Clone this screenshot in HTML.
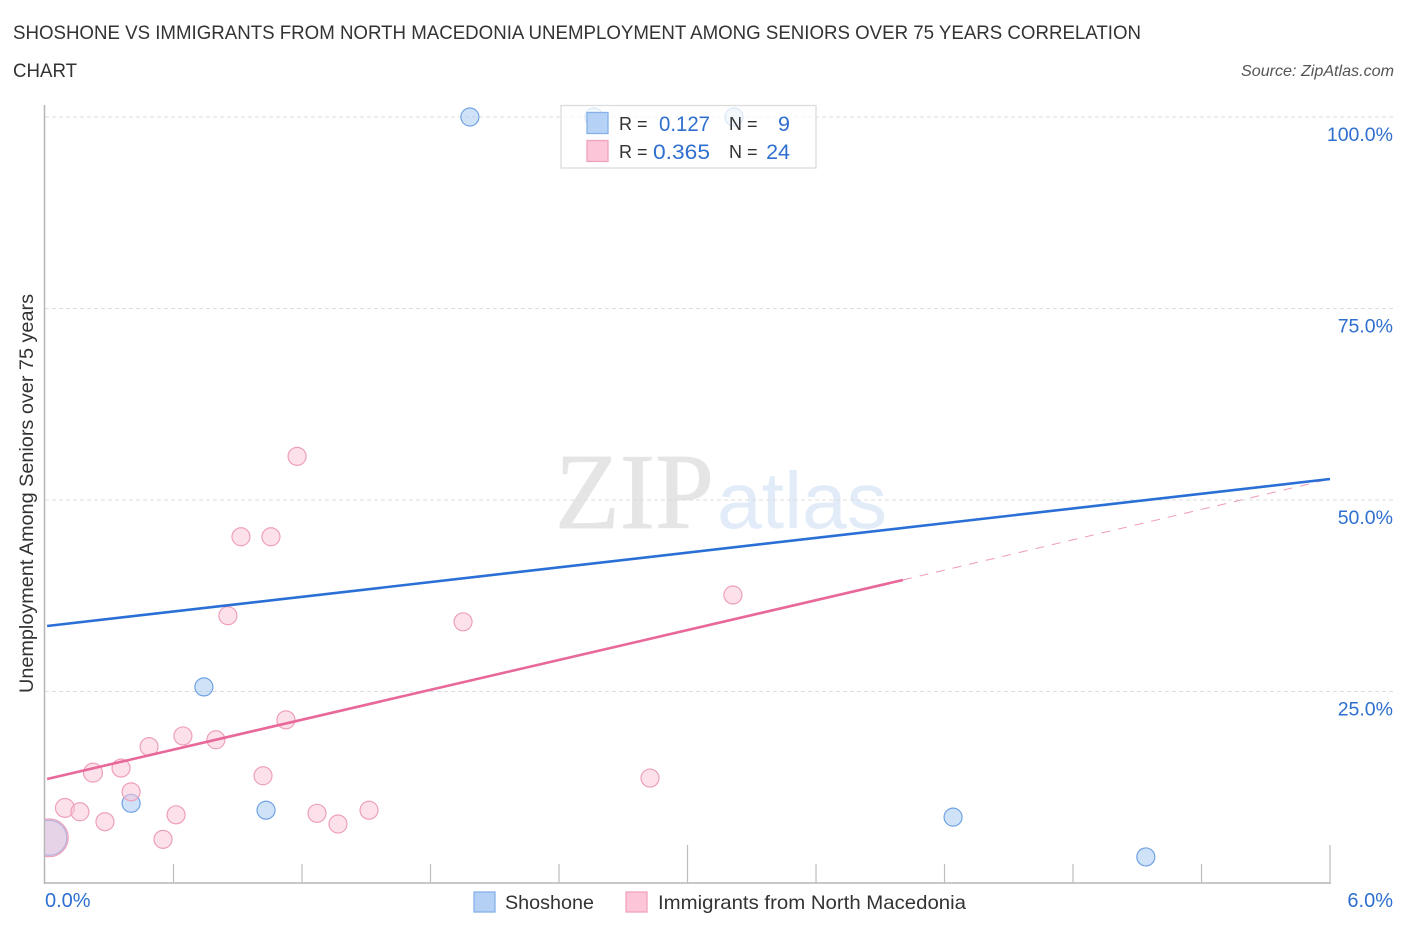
<!DOCTYPE html>
<html>
<head>
<meta charset="utf-8">
<title>Shoshone vs Immigrants from North Macedonia Chart</title>
<style>
html,body{margin:0;padding:0;background:#fff;width:1406px;height:930px;overflow:hidden}
svg{display:block;font-family:"Liberation Sans",sans-serif}
</style>
</head>
<body>
<svg id="chart" width="1406" height="930" viewBox="0 0 1406 930">
<defs><clipPath id="plot-clip"><rect x="45" y="90" width="1300" height="793"/></clipPath></defs>
<text x="13" y="39" font-size="19.5" fill="#333" textLength="1128" lengthAdjust="spacingAndGlyphs">SHOSHONE VS IMMIGRANTS FROM NORTH MACEDONIA UNEMPLOYMENT AMONG SENIORS OVER 75 YEARS CORRELATION</text>
<text x="13" y="77" font-size="19.5" fill="#333" textLength="64" lengthAdjust="spacingAndGlyphs">CHART</text>
<text x="1394" y="76" font-size="16" font-style="italic" fill="#555" text-anchor="end" textLength="153" lengthAdjust="spacingAndGlyphs">Source: ZipAtlas.com</text>
<g>
<text x="555" y="528" style="font-family:'Liberation Serif',serif" font-size="108" fill="#e5e5e5" stroke="#e5e5e5" stroke-width="0.8" textLength="159" lengthAdjust="spacingAndGlyphs">ZIP</text>
<text x="717" y="528" style="font-family:'Liberation Sans',sans-serif" font-size="80" fill="#e2ecf9" textLength="170" lengthAdjust="spacingAndGlyphs">atlas</text>
</g>
<g id="grid"></g>
<g id="axes"></g>
<text transform="translate(33,493.5) rotate(-90)" font-size="19" fill="#333" text-anchor="middle" textLength="399" lengthAdjust="spacingAndGlyphs">Unemployment Among Seniors over 75 years</text>
<g id="points" clip-path="url(#plot-clip)"></g>
<g id="trends"></g>
<g>
<rect x="561" y="105.500" width="255" height="62.500" fill="#fff" fill-opacity="0.75" stroke="#dcdcdc" stroke-width="1.300"/>
<rect x="587" y="112.500" width="21" height="21" fill="#a9cbf5" fill-opacity="0.85" stroke="#86b0e8" stroke-width="1.300"/>
<rect x="587" y="140.500" width="21" height="21" fill="#fcc5d8" stroke="#f0a3bd" stroke-width="1.300"/>
<text x="619" y="130" font-size="18" fill="#333">R =</text>
<text x="659" y="131" font-size="21.500" fill="#2e6fd0" textLength="51" lengthAdjust="spacingAndGlyphs">0.127</text>
<text x="729" y="130" font-size="18" fill="#333">N =</text>
<text x="790" y="131" font-size="21.500" fill="#2e6fd0" text-anchor="end">9</text>
<text x="619" y="158" font-size="18" fill="#333">R =</text>
<text x="653" y="159" font-size="21.500" fill="#2e6fd0" textLength="57" lengthAdjust="spacingAndGlyphs">0.365</text>
<text x="729" y="158" font-size="18" fill="#333">N =</text>
<text x="790" y="159" font-size="21.500" fill="#2e6fd0" text-anchor="end">24</text>
</g>
<g>
<rect x="474" y="892" width="21" height="20" fill="#b5d0f5" stroke="#86b0e8" stroke-width="1.300"/>
<text x="505" y="909" font-size="19.500" fill="#333" textLength="89" lengthAdjust="spacingAndGlyphs">Shoshone</text>
<rect x="626" y="892" width="21" height="20" fill="#fcc5d8" stroke="#f0a3bd" stroke-width="1.300"/>
<text x="658" y="909" font-size="19.500" fill="#333" textLength="308" lengthAdjust="spacingAndGlyphs">Immigrants from North Macedonia</text>
</g>
</svg>
<script>
const yTicks = [100, 75, 50, 25];
const yTickLabels = ["100.0%", "75.0%", "50.0%", "25.0%"];
const xTicks = [0.6, 1.2, 1.8, 2.4, 3.0, 3.6, 4.2, 4.8, 5.4, 6.0];
const xMajorTicks = [3.0, 6.0];
const xEndLabels = ["0.0%", "6.0%"];
const xEndValues = [0, 6];

const shoshoneX = [1.984, 2.563, 3.217, 0.742, 0.402, 1.032, 4.24, 5.14, 0.02];
const shoshoneY = [100, 100, 100, 25.6, 10.4, 9.5, 8.6, 3.4, 5.9];
const shoshoneWeight = [1, 1, 1, 1, 1, 1, 1, 1, 3.8];

const macedoniaX = [1.177, 0.915, 1.055, 0.854, 1.952, 3.212, 1.125, 0.798, 0.644, 0.486, 0.224, 0.355, 1.018, 2.825, 0.402, 0.093, 0.163, 0.28, 0.612, 1.27, 1.368, 1.513, 0.551, 0.02];
const macedoniaY = [55.7, 45.2, 45.2, 34.9, 34.1, 37.6, 21.3, 18.7, 19.2, 17.8, 14.4, 15.0, 14.0, 13.7, 11.9, 9.8, 9.3, 8.0, 8.9, 9.1, 7.7, 9.5, 5.7, 5.9];
const macedoniaWeight = [1, 1, 1, 1, 1, 1, 1, 1, 1, 1, 1.1, 1, 1, 1, 1, 1.1, 1, 1, 1, 1, 1, 1, 1, 4.4];

const shoshoneTrendX = [0.01, 6];
const shoshoneTrendY = [33.55, 52.74];
const macedoniaTrendX = [0.01, 4.006];
const macedoniaTrendY = [13.58, 39.56];
const macedoniaDashX = [4.006, 6];
const macedoniaDashY = [39.56, 52.74];

const NS = "http://www.w3.org/2000/svg";
function xPos(v) { return 45 + v * 214.17; }
function yPos(v) { return 883 - v * 7.66; }
function rPos(w) { return 9 * Math.sqrt(w); }
function make(parent, tag, attrs) {
  const el = document.createElementNS(NS, tag);
  for (const k in attrs) el.setAttribute(k, attrs[k]);
  parent.appendChild(el);
  return el;
}

const grid = document.getElementById("grid");
const axes = document.getElementById("axes");
const pointsG = document.getElementById("points");
const trends = document.getElementById("trends");

yTicks.forEach(function (t, i) {
  const line = make(grid, "line", { x1: 45, x2: 1393, y1: yPos(t), y2: yPos(t), stroke: "#dcdcdc", "stroke-width": 1, "stroke-dasharray": "4 3" });
  
  
  const label = make(axes, "text", { x: 1393, y: yPos(t) + 24, "font-size": 19.5, fill: "#2e6fd0", "text-anchor": "end" });
  label.textContent = yTickLabels[i];
  
  
});

const yAxisLine = make(axes, "line", { x1: 44.5, x2: 44.5, y1: 105, y2: 884, stroke: "#b5b5b5", "stroke-width": 1.5 });


const xAxisLine = make(axes, "line", { x1: 44, x2: xPos(6) + 1, y1: 883, y2: 883, stroke: "#b5b5b5", "stroke-width": 1.5 });



xTicks.forEach(function (t) {
  const top = xMajorTicks.indexOf(t) >= 0 ? 845 : 864;
  const tick = make(axes, "line", { x1: xPos(t), x2: xPos(t), y1: top, y2: 883, stroke: "#bdbdbd", "stroke-width": 1.2 });
  
  
});

xEndLabels.forEach(function (s, i) {
  const label = make(axes, "text", { x: i === 0 ? xPos(xEndValues[i]) : 1393, y: 907, "font-size": 20, fill: "#2e6fd0", "text-anchor": i === 0 ? "start" : "end" });
  label.textContent = s;
  
  
});

shoshoneX.forEach(function (x, i) {
  const c = make(pointsG, "circle", { cx: xPos(x), cy: yPos(shoshoneY[i]), r: rPos(shoshoneWeight[i]), fill: "#a9cbf3", "fill-opacity": 0.55, stroke: "#6fa3e4", "stroke-width": 1.2 });
  
  
});
macedoniaX.forEach(function (x, i) {
  const c = make(pointsG, "circle", { cx: xPos(x), cy: yPos(macedoniaY[i]), r: rPos(macedoniaWeight[i]), fill: "#fbc3d6", "fill-opacity": 0.5, stroke: "#eda0bb", "stroke-width": 1.2 });
  
  
});

const dashLine = make(trends, "line", { x1: xPos(macedoniaDashX[0]), y1: yPos(macedoniaDashY[0]), x2: xPos(macedoniaDashX[1]), y2: yPos(macedoniaDashY[1]), stroke: "#e8709a", "stroke-width": 1, "stroke-dasharray": "9 8", "stroke-opacity": 0.7 });


const pinkLine = make(trends, "line", { x1: xPos(macedoniaTrendX[0]), y1: yPos(macedoniaTrendY[0]), x2: xPos(macedoniaTrendX[1]), y2: yPos(macedoniaTrendY[1]), stroke: "#e8689a", "stroke-width": 2.6 });


const blueLine = make(trends, "line", { x1: xPos(shoshoneTrendX[0]), y1: yPos(shoshoneTrendY[0]), x2: xPos(shoshoneTrendX[1]), y2: yPos(shoshoneTrendY[1]), stroke: "#2a6fd6", "stroke-width": 2.6 });


</script>
</body>
</html>
